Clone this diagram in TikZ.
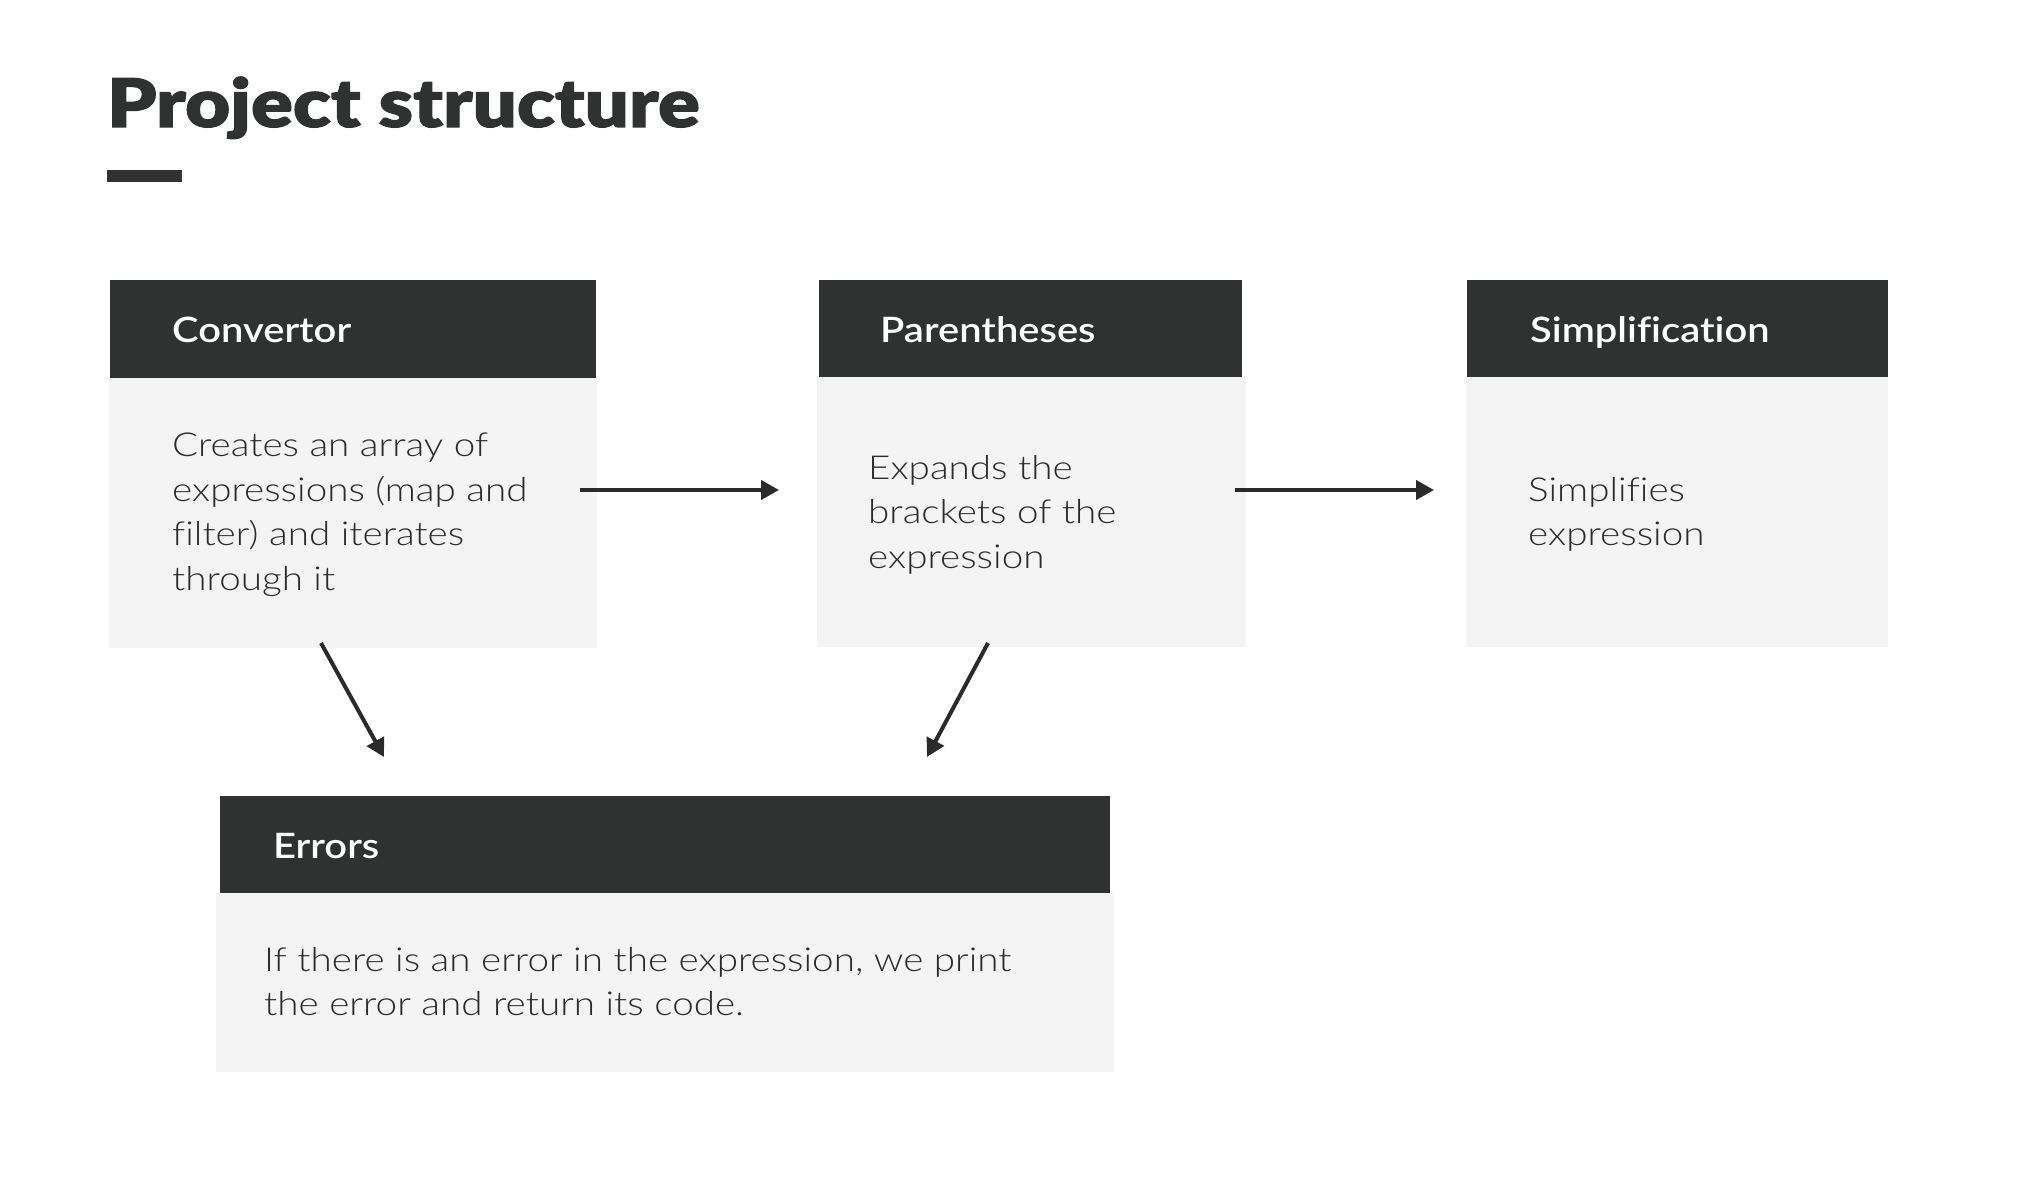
\documentclass[tikz,border=0pt]{standalone}
\usepackage{fontspec}
\setmainfont{Lato Light}[FakeStretch=1.17, Ligatures=NoCommon]
\newfontfamily\headfont{Lato Semibold}[FakeStretch=1.14, Ligatures=NoCommon]
\newfontfamily\titlefont{Lato Black}[FakeStretch=1.16, FakeBold=1.5, Ligatures=NoCommon]
\usetikzlibrary{arrows.meta}
\definecolor{hdr}{HTML}{303131}
\definecolor{bodybg}{HTML}{F4F4F4}
\definecolor{ink}{HTML}{2B2B2B}
\tikzset{
  hdrbox/.style={fill=hdr, draw=none, anchor=north west, inner sep=0, outer sep=0},
  bodybox/.style={fill=bodybg, draw=none, anchor=north west, inner sep=0, outer sep=0},
  hdrtext/.style={text=white, anchor=base west, inner sep=0, font=\headfont\fontsize{35}{35}\selectfont},
  bodytext/.style={text=ink, anchor=north west, inner sep=0, align=left, font=\fontsize{33}{44.5}\selectfont},
  arr/.style={draw=ink, line width=4pt, -{Triangle[length=18pt,width=19pt]}}
}
\begin{document}
\begin{tikzpicture}[x=1pt,y=-1pt]
\useasboundingbox[fill=white] (0,0) rectangle (2020,1198);
% title
\node[anchor=base west, inner sep=0, text=hdr, font=\titlefont\fontsize{67}{67}\selectfont] (title) at (107,127) {Project structure};
\node[fill=hdr, anchor=north west, inner sep=0, minimum width=75pt, minimum height=12pt] (bar) at (107,170) {};
% Convertor
\node[bodybox, minimum width=488pt, minimum height=270pt] (convb) at (109,378) {};
\node[hdrbox, minimum width=486pt, minimum height=98pt] (convh) at (110,280) {};
\node[hdrtext] (convt) at (172,342) {Convertor};
\node[bodytext] (convx) at (172,433) {Creates an array of\\expressions (map and\\filter) and iterates\\through it};
% Parentheses
\node[bodybox, minimum width=429pt, minimum height=270pt] (parb) at (817,377) {};
\node[hdrbox, minimum width=423pt, minimum height=97pt] (parh) at (819,280) {};
\node[hdrtext] (part) at (880,342) {Parentheses};
\node[bodytext] (parx) at (868,455) {Expands the\\brackets of the\\expression};
% Simplification
\node[bodybox, minimum width=422pt, minimum height=270pt] (simb) at (1466,377) {};
\node[hdrbox, minimum width=421pt, minimum height=97pt] (simh) at (1467,280) {};
\node[hdrtext] (simt) at (1530,342) {Simplification};
\node[bodytext] (simx) at (1528,477) {Simplifies\\expression};
% Errors
\node[bodybox, minimum width=898pt, minimum height=179pt] (errb) at (216,893) {};
\node[hdrbox, minimum width=890pt, minimum height=97pt] (errh) at (220,796) {};
\node[hdrtext] (errt) at (273,858) {Errors};
\node[bodytext] (errx) at (264,947) {If there is an error in the expression, we print\\the error and return its code.};
% connectors
\coordinate (a1s) at (580,490);
\coordinate (a1e) at (779,490);
\coordinate (a2s) at (1235,490);
\coordinate (a2e) at (1434,490);
\coordinate (a3s) at (321,643);
\coordinate (a3e) at (384,757);
\coordinate (a4s) at (988,643);
\coordinate (a4e) at (927,757);
\draw[arr] (a1s) -- (a1e);
\draw[arr] (a2s) -- (a2e);
\draw[arr] (a3s) -- (a3e);
\draw[arr] (a4s) -- (a4e);
\end{tikzpicture}
\end{document}
